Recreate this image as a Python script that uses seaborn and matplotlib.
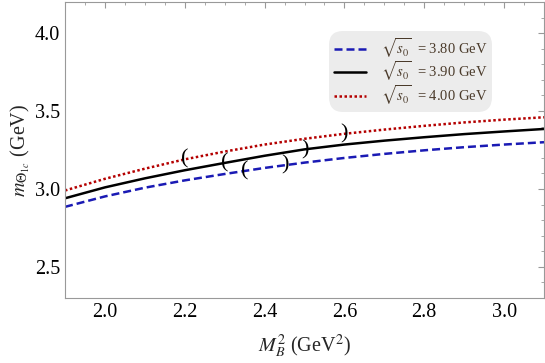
import numpy as np
import pandas as pd
import matplotlib
matplotlib.use("Agg")
import matplotlib.pyplot as plt
import seaborn as sns
from matplotlib.ticker import MultipleLocator

# Borel mass values (GeV^2)
m_b2 = [1.9, 2.0, 2.1, 2.2, 2.3, 2.4, 2.5, 2.6, 2.7, 2.8, 2.9, 3.0, 3.1]

# mass curves for three threshold values (GeV)
mass_380 = [2.885, 2.952, 3.008, 3.055, 3.096, 3.135, 3.169, 3.199, 3.225, 3.248, 3.268, 3.285, 3.30]
mass_390 = [2.94, 3.01, 3.068, 3.12, 3.167, 3.213, 3.254, 3.285, 3.31, 3.332, 3.352, 3.369, 3.385]
mass_400 = [2.99, 3.065, 3.13, 3.19, 3.24, 3.285, 3.322, 3.354, 3.381, 3.405, 3.427, 3.445, 3.46]

# Borel windows marked with brackets
window_380 = [2.35, 2.45]
window_390 = [2.3, 2.5]
window_400 = [2.2, 2.6]

labels = [r"$\sqrt{s_0}$  = 3.80 GeV", r"$\sqrt{s_0}$  = 3.90 GeV", r"$\sqrt{s_0}$  = 4.00 GeV"]

sns.set_theme(style="white")
plt.rcParams["font.family"] = ["Liberation Serif", "DejaVu Serif"]
plt.rcParams["mathtext.fontset"] = "stix"

fig = plt.figure(figsize=(5.45, 3.63), dpi=100)
ax = fig.add_axes([65 / 545, 65 / 363, 479 / 545, 296 / 363])

curves = [
    (mass_380, window_380, "#1a1ab4", (0, (3.2, 1.6)), labels[0]),
    (mass_390, window_390, "black", "-", labels[1]),
    (mass_400, window_400, "#b40000", (0, (1, 1)), labels[2]),
]

for ys, win, col, ls, lab in curves:
    sns.lineplot(x=m_b2, y=ys, ax=ax, color=col, linestyle=ls, linewidth=1.8, label=lab)
    for xw, br in zip(win, ["(", ")"]):
        yw = np.interp(xw, m_b2, ys)
        ax.text(xw, yw, br, ha="center", va="center", fontsize=16, color="black")

ax.set_xlim(1.9, 3.1)
ax.set_ylim(2.3, 4.2)
ax.xaxis.set_major_locator(MultipleLocator(0.2))
ax.xaxis.set_minor_locator(MultipleLocator(0.05))
ax.yaxis.set_major_locator(MultipleLocator(0.5))
ax.yaxis.set_minor_locator(MultipleLocator(0.1))
ax.tick_params(which="both", direction="in", top=True, right=True, color="#999999",
               labelsize=14.5, labelcolor="black")
ax.tick_params(which="major", length=4, width=0.8)
ax.tick_params(which="minor", length=2, width=0.6)
for sp in ax.spines.values():
    sp.set_color("#999999")
    sp.set_linewidth(0.8)

ax.set_xlabel(r"$M_B^2$ (GeV$^2$)", fontsize=14.5, labelpad=8)
ax.set_ylabel(r"$m_{\Theta_{1c}}$ (GeV)", fontsize=14.5)
ax.yaxis.set_label_coords(-0.068, 0.5)

leg = ax.legend(loc="upper left", bbox_to_anchor=(0.54, 0.92), fontsize=10.5,
                frameon=True, fancybox=True, framealpha=1, facecolor="#ececec",
                edgecolor="none", handlelength=2.2, handletextpad=1.0,
                labelspacing=0.0, borderpad=0.2)
leg.get_frame().set_boxstyle("round,pad=0.15,rounding_size=1.0")
for t in leg.get_texts():
    t.set_color("#4a3a2a")

fig.savefig("out.png", dpi=100)
